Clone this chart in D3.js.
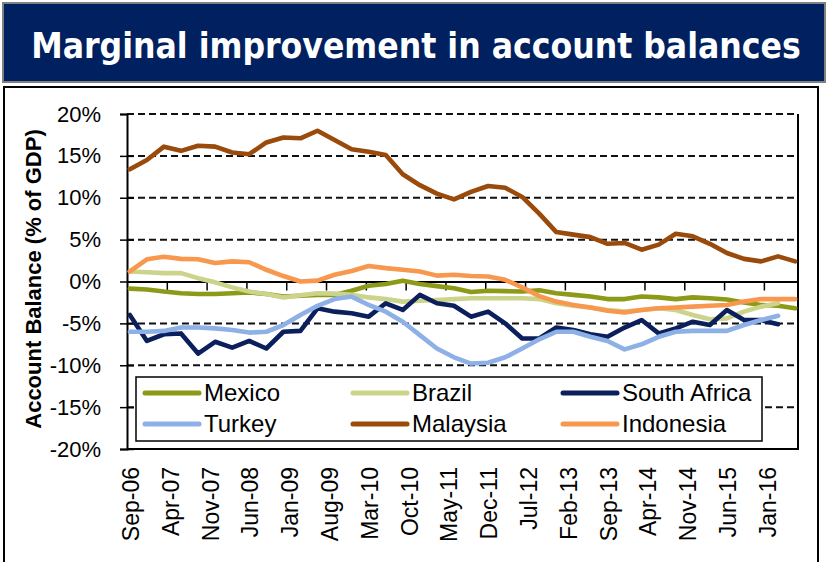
<!DOCTYPE html>
<html><head><meta charset="utf-8">
<script src="https://cdn.jsdelivr.net/npm/d3@7"></script>
<style>body{margin:0;background:#fff}</style>
</head><body><svg id="c" width="828" height="562"></svg>
<script>
// ---- data (quarterly, month offset from Sep-06) ----
const months = d3.range(0, 118, 3); // Sep-06 ... Jun-16
const xTickLabels = ["Sep-06","Apr-07","Nov-07","Jun-08","Jan-09","Aug-09","Mar-10","Oct-10","May-11","Dec-11","Jul-12","Feb-13","Sep-13","Apr-14","Nov-14","Jun-15","Jan-16"];
const yTickValues = [20,15,10,5,0,-5,-10,-15,-20];
const mexico = [-0.85,-0.95,-1.2,-1.4,-1.5,-1.5,-1.4,-1.3,-1.5,-1.8,-1.7,-1.6,-1.6,-1.1,-0.5,-0.3,0.1,-0.3,-0.55,-0.8,-1.25,-1.1,-1.15,-1.2,-1.05,-1.4,-1.6,-1.8,-2.1,-2.1,-1.8,-1.9,-2.1,-1.9,-2.0,-2.15,-2.5,-2.8,-2.9,-3.2];
const brazil = [1.2,1.1,1.0,1.0,0.4,-0.1,-0.7,-1.2,-1.5,-1.9,-1.65,-1.4,-1.45,-1.6,-1.9,-2.1,-2.4,-2.3,-2.2,-2.1,-2.0,-2.0,-2.0,-2.0,-2.1,-2.6,-2.9,-3.1,-3.4,-3.6,-3.4,-3.2,-3.4,-4.0,-4.5,-4.4,-3.6,-3.0,-2.6];
const southAfrica = [-4.0,-7.1,-6.3,-6.2,-8.6,-7.2,-7.9,-7.1,-8.0,-6.0,-5.9,-3.2,-3.6,-3.8,-4.2,-2.6,-3.4,-1.6,-2.6,-2.9,-4.2,-3.6,-5.0,-6.8,-6.8,-5.5,-5.8,-6.3,-6.6,-5.5,-4.6,-6.2,-5.6,-4.8,-5.2,-3.4,-4.6,-4.6,-5.1];
const turkey = [-6.0,-6.0,-5.9,-5.5,-5.5,-5.6,-5.8,-6.1,-6.0,-5.2,-4.0,-2.9,-2.1,-1.8,-2.8,-3.6,-4.8,-6.4,-8.0,-9.05,-9.8,-9.7,-9.05,-8.0,-6.9,-6.0,-6.0,-6.6,-7.1,-8.1,-7.5,-6.6,-6.0,-5.9,-5.9,-5.9,-5.2,-4.6,-4.1];
const malaysia = [13.4,14.5,16.1,15.6,16.2,16.1,15.4,15.2,16.6,17.2,17.1,18.0,16.9,15.8,15.5,15.1,12.8,11.5,10.5,9.8,10.7,11.4,11.2,10.1,8.1,5.9,5.6,5.3,4.5,4.6,3.8,4.4,5.7,5.4,4.5,3.4,2.7,2.4,3.0,2.4];
const indonesia = [1.2,2.65,2.95,2.7,2.65,2.2,2.4,2.3,1.4,0.65,0.0,0.1,0.8,1.25,1.85,1.6,1.4,1.2,0.7,0.8,0.65,0.6,0.2,-0.7,-1.75,-2.4,-2.8,-3.1,-3.5,-3.7,-3.4,-3.2,-3.1,-3.0,-2.9,-2.8,-2.4,-2.1,-2.1,-2.1];
const seriesNames = ["Mexico","Brazil","South Africa","Turkey","Malaysia","Indonesia"];
const seriesColors = ["#8c9a17","#cbd48a","#0b1f5c","#8db0e6","#9a4a0a","#f8984f"];
const seriesValues = [mexico, brazil, southAfrica, turkey, malaysia, indonesia];

const svg = d3.select("#c");
const FONT = "Liberation Sans, Arial, sans-serif";

// title banner
svg.append("rect").attr("x",3).attr("y",3).attr("width",822).attr("height",79)
  .attr("fill","#002060").attr("stroke","#808080").attr("stroke-width",2);
const title = svg.append("text").attr("x",416).attr("y",58).attr("text-anchor","middle")
  .attr("fill","#fff").attr("font-family","DejaVu Sans Condensed, DejaVu Sans, sans-serif").attr("font-weight","bold")
  .attr("font-size",30).text("Marginal improvement in account balances");
const tw = title.node().getComputedTextLength();
title.attr("font-size", Math.min(36, 30*770/tw));

// chart box
svg.append("rect").attr("x",4).attr("y",87).attr("width",814).attr("height",485)
  .attr("fill","#fff").attr("stroke","#000").attr("stroke-width",2);

const x = d3.scaleLinear().domain([0,118]).range([127,798]);
const y = d3.scaleLinear().domain([-20,20]).range([449,114]);

// gridlines
svg.append("g").selectAll("line").data(yTickValues.filter(v=>v!==0 && v!==-20))
  .join("line").attr("x1",x(0)).attr("x2",x(118)).attr("y1",d=>y(d)).attr("y2",d=>y(d))
  .attr("stroke","#111").attr("stroke-width",2).attr("stroke-dasharray","7,4");

// plot border (right and bottom)
svg.append("path").attr("d",`M${x(118)},${y(20)}V${y(-20)}H${x(0)}`)
  .attr("fill","none").attr("stroke","#000").attr("stroke-width",2);

// y axis
const yAxis = svg.append("g").attr("transform",`translate(${x(0)},0)`)
  .call(d3.axisLeft(y).tickValues(yTickValues).tickFormat(d=>d+"%").tickSize(7).tickPadding(19));
yAxis.select(".domain").attr("stroke","#000").attr("stroke-width",2);
yAxis.selectAll(".tick line").attr("x2",d=>d===20?0:7).attr("x1",-7).attr("stroke","#000").attr("stroke-width",1.5);
yAxis.selectAll(".tick text").attr("font-family",FONT).attr("font-size",22).attr("fill","#000");

// x axis at zero
const xAxis = svg.append("g").attr("transform",`translate(0,${y(0)})`)
  .call(d3.axisBottom(x).tickValues(d3.range(7,113,7)).tickFormat("").tickSize(9).tickSizeOuter(0));
xAxis.select(".domain").attr("stroke","#000").attr("stroke-width",2);
xAxis.selectAll(".tick line").attr("stroke","#000").attr("stroke-width",1.5);

// x labels at bottom
svg.append("g").selectAll("text").data(xTickLabels).join("text")
  .attr("transform",(d,i)=>`translate(${x(i*7+0.5)+1},467) rotate(-90)`)
  .attr("text-anchor","end").attr("dy","0.35em")
  .attr("font-family",FONT).attr("font-size",23).attr("fill","#000").text(d=>d);

// y title
svg.append("text").attr("transform","translate(33,279) rotate(-90)")
  .attr("text-anchor","middle").attr("dy","0.35em")
  .attr("font-family",FONT).attr("font-weight","bold").attr("font-size",22).attr("fill","#000")
  .text("Account Balance (% of GDP)");

// lines
const line = d3.line().x((d,i)=>x(months[i]+0.5)).y(d=>y(d));
svg.append("g").selectAll("path").data(seriesValues).join("path")
  .attr("d",d=>line(d)).attr("fill","none")
  .attr("stroke",(d,i)=>seriesColors[i]).attr("stroke-width",4.6)
  .attr("stroke-linejoin","round").attr("stroke-linecap","round");

// legend
svg.append("rect").attr("x",136).attr("y",377).attr("width",626).attr("height",64)
  .attr("fill","#fff").attr("stroke","#000").attr("stroke-width",1.5);
const colX = [145,353,563];
const rowY = [393,424];
const lg = svg.append("g").selectAll("g").data(seriesNames).join("g")
  .attr("transform",(d,i)=>`translate(${colX[i%3]},${rowY[Math.floor(i/3)]})`);
lg.append("line").attr("x1",0).attr("x2",54).attr("y1",0).attr("y2",0)
  .attr("stroke",(d,i)=>seriesColors[i]).attr("stroke-width",5).attr("stroke-linecap","round");
lg.append("text").attr("x",59).attr("y",0).attr("dy","0.35em")
  .attr("font-family",FONT).attr("font-size",24).attr("fill","#000").text(d=>d);
</script></body></html>
